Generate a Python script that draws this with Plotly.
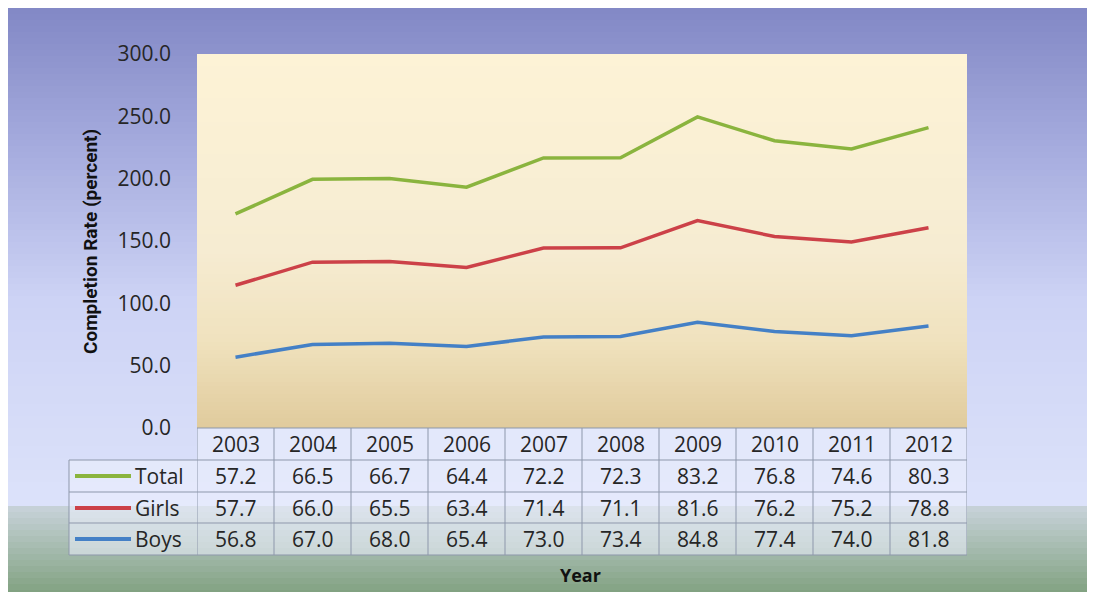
import plotly.graph_objects as go

# data (values per year)
years = ['2003', '2004', '2005', '2006', '2007', '2008', '2009', '2010', '2011', '2012']
total = [57.2, 66.5, 66.7, 64.4, 72.2, 72.3, 83.2, 76.8, 74.6, 80.3]
girls = [57.7, 66.0, 65.5, 63.4, 71.4, 71.1, 81.6, 76.2, 75.2, 78.8]
boys = [56.8, 67.0, 68.0, 65.4, 73.0, 73.4, 84.8, 77.4, 74.0, 81.8]
y_ticks = [0, 50, 100, 150, 200, 250, 300]

# page has an 8px body margin, so the figure is drawn 8px in from the corner
OFF = 8
W, H = 1095 - OFF, 592 - OFF
L, R, T, B = 197, 967, 54, 428   # plot area in screen pixels

def px_x(x):
    return (x - L) / (R - L)

def px_y(y):
    return (B - y) / (B - T)

def lerp(stops, y):
    for (y0, c0), (y1, c1) in zip(stops, stops[1:]):
        if y0 <= y <= y1:
            t = (y - y0) / (y1 - y0) if y1 > y0 else 0
            return 'rgb(%d,%d,%d)' % tuple(round(a + (b - a) * t) for a, b in zip(c0, c1))
    return 'rgb(%d,%d,%d)' % stops[-1][1]

shapes = []

# slide background gradient
bg_stops = [(0, (128, 134, 196)), (150, (166, 172, 222)), (300, (205, 211, 245)),
            (505, (220, 226, 250)), (506, (200, 211, 218)), (592, (130, 162, 130))]
step = 6
for y in range(OFF, 600, step):
    shapes.append(dict(type='rect', xref='paper', yref='paper', layer='below',
                       x0=px_x(OFF - 2), x1=px_x(1100), y0=px_y(y), y1=px_y(y + step + 1),
                       fillcolor=lerp(bg_stops, y + step / 2), line_width=0))

# plot area gradient
pa_stops = [(T, (253, 243, 214)), (250, (246, 236, 210)), (340, (240, 226, 190)), (B, (224, 203, 156))]
step = 4
for y in range(T, B, step):
    shapes.append(dict(type='rect', xref='paper', yref='paper', layer='below',
                       x0=0, x1=1, y0=px_y(y), y1=px_y(min(y + step + 1, B)),
                       fillcolor=lerp(pa_stops, y + step / 2), line_width=0))

# data table cells
grid = dict(color='#8d97ab', width=1)
shapes.append(dict(type='rect', xref='paper', yref='paper', layer='below',
                   x0=0, x1=1, y0=px_y(460), y1=px_y(428),
                   fillcolor='rgba(236,240,253,0.55)', line_width=0))
shapes.append(dict(type='rect', xref='paper', yref='paper', layer='below',
                   x0=px_x(69), x1=1, y0=px_y(555), y1=px_y(460),
                   fillcolor='rgba(236,240,253,0.55)', line_width=0))
for k in range(len(years) + 1):
    shapes.append(dict(type='line', xref='x', yref='paper', x0=k - 0.5, x1=k - 0.5,
                       y0=px_y(428), y1=px_y(555), line=grid))
shapes.append(dict(type='line', xref='paper', yref='paper', x0=px_x(69), x1=px_x(69),
                   y0=px_y(460), y1=px_y(555), line=grid))
shapes.append(dict(type='line', xref='paper', yref='paper', x0=0, x1=1,
                   y0=px_y(428), y1=px_y(428), line=grid))
for yy in [460, 492, 523, 555]:
    shapes.append(dict(type='line', xref='paper', yref='paper', x0=px_x(69), x1=1,
                       y0=px_y(yy), y1=px_y(yy), line=grid))

fig = go.Figure()

colors = {'Boys': '#4480c6', 'Girls': '#cc4148', 'Total': '#8ab43e'}
# stacked line chart: boys at the bottom, girls on top, then total
for name, vals in [('Boys', boys), ('Girls', girls), ('Total', total)]:
    fig.add_trace(go.Scatter(x=years, y=vals, name=name, mode='lines', stackgroup='one',
                             fill='none', line=dict(color=colors[name], width=3.5),
                             showlegend=False))

txt = dict(family='Open Sans', size=21, color='#262626')
annotations = []
for i, yr in enumerate(years):
    annotations.append(dict(x=i, y=px_y(444), xref='x', yref='paper', text=yr,
                            showarrow=False, xanchor='center', yanchor='middle', font=txt))
rows = [('Total', total, 476), ('Girls', girls, 508), ('Boys', boys, 539)]
for name, vals, yc in rows:
    shapes.append(dict(type='line', xref='paper', yref='paper', x0=px_x(75), x1=px_x(131),
                       y0=px_y(yc), y1=px_y(yc), line=dict(color=colors[name], width=4)))
    annotations.append(dict(x=px_x(133), y=px_y(yc), xref='paper', yref='paper', text=name,
                            showarrow=False, xanchor='left', yanchor='middle', font=txt))
    for i, v in enumerate(vals):
        annotations.append(dict(x=i, y=px_y(yc), xref='x', yref='paper', text='%.1f' % v,
                                showarrow=False, xanchor='center', yanchor='middle', font=txt))

annotations.append(dict(x=px_x(90), y=px_y(242), xref='paper', yref='paper',
                        text='<b>Completion Rate (percent)</b>', textangle=-90, showarrow=False,
                        xanchor='center', yanchor='middle',
                        font=dict(family='Roboto', size=19, color='#111111')))
annotations.append(dict(x=px_x(580), y=px_y(575), xref='paper', yref='paper',
                        text='<b>Year</b>', showarrow=False, xanchor='center', yanchor='middle',
                        font=dict(family='Open Sans', size=18, color='#111111')))

fig.update_layout(
    width=W, height=H,
    margin=dict(l=L - OFF, r=W - (R - OFF), t=T - OFF, b=H - (B - OFF)),
    paper_bgcolor='white',
    plot_bgcolor='rgba(0,0,0,0)',
    shapes=shapes,
    annotations=annotations,
    xaxis=dict(type='category', range=[-0.5, len(years) - 0.5], showticklabels=False,
               showgrid=False, zeroline=False, showline=False),
    yaxis=dict(range=[0, 300], tickvals=y_ticks, tickformat='.1f', showgrid=False,
               zeroline=False, showline=False, ticks='', ticklabelstandoff=25,
               tickfont=dict(family='Open Sans', size=21, color='#262626')),
)

fig.write_html("out.html")
